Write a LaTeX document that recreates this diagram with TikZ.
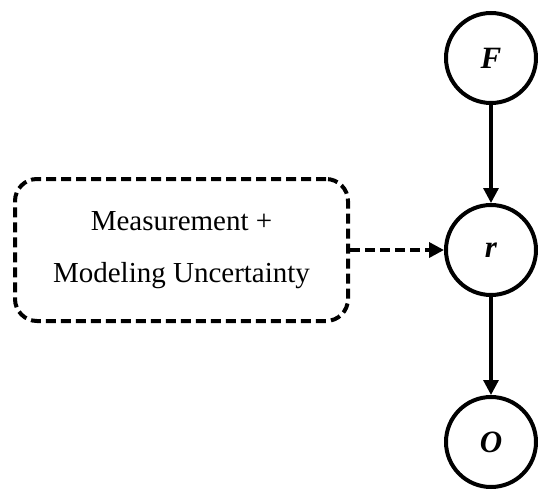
\documentclass[tikz,border=0pt]{standalone}
\usepackage{fontspec}
\setmainfont{Liberation Serif}
\usetikzlibrary{arrows.meta,positioning}
\tikzset{
  >={Triangle[length=15pt,width=15pt]},
  var/.style={circle,draw,line width=4pt,minimum size=90pt,inner sep=0pt,
    font=\fontsize{31}{36}\selectfont\bfseries\itshape},
  noise/.style={draw,line width=4pt,dash pattern=on 10pt off 5pt,rounded corners=22pt,
    minimum width=333pt,minimum height=142pt,align=center,font=\fontsize{29}{52}\selectfont},
  link/.style={->,line width=3.2pt},
  dashlink/.style={->,line width=3.5pt,dash pattern=on 10pt off 5pt},
}
\begin{document}
\begin{tikzpicture}[x=1pt,y=-1pt]
  \useasboundingbox (0,0) rectangle (538,493);
  \node[var] (F) at (491,58) {F};
  \node[var] (r) at (491,250) {r};
  \node[var] (O) at (491,442) {O};
  \node[noise] (unc) at (181.5,250) {Measurement +\\Modeling Uncertainty};
  \draw[link] (F) -- (r);
  \draw[link] (r) -- (O);
  \draw[dashlink] (unc) -- (r);
\end{tikzpicture}
\end{document}
